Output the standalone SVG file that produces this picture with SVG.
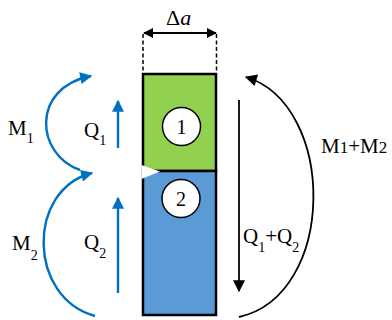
<svg xmlns="http://www.w3.org/2000/svg" width="392" height="320" viewBox="0 0 392 320">
<style>
text{font-family:'Liberation Serif','Times New Roman',serif;fill:#000}
.lbl{font-size:21px}
.sub{font-size:14px}
.num{font-size:20px}
.blk{fill:none;stroke:#000;stroke-width:1.8}
.blu{fill:none;stroke:#0070C0;stroke-width:2.4}
.dash{fill:none;stroke:#000;stroke-width:1.5;stroke-dasharray:4 2.5}
</style>
<defs>
<marker id="ab" viewBox="0 0 10 10" refX="9" refY="5" markerWidth="11" markerHeight="10" markerUnits="userSpaceOnUse" orient="auto-start-reverse"><path d="M0,0 L10,5 L0,10 Z" fill="#000"/></marker>
<marker id="au" viewBox="0 0 10 10" refX="9" refY="5" markerWidth="14" markerHeight="12" markerUnits="userSpaceOnUse" orient="auto"><path d="M0,0 L10,5 L0,10 Z" fill="#0070C0"/></marker>
<marker id="ak" viewBox="0 0 10 10" refX="9" refY="5" markerWidth="14" markerHeight="12" markerUnits="userSpaceOnUse" orient="auto"><path d="M0,0 L10,5 L0,10 Z" fill="#000"/></marker>
</defs>
<g id="block1">
<rect x="143" y="74" width="73" height="97" fill="#92D050" stroke="#000" stroke-width="2.5"/>
<circle cx="181.5" cy="126.5" r="19" fill="#fff" stroke="#000" stroke-width="1.5"/>
<text class="num" x="181.5" y="133.5" text-anchor="middle">1</text>
</g>
<g id="block2">
<rect x="143" y="171" width="73" height="144" fill="#5B9BD5" stroke="#000" stroke-width="2.5"/>
<circle cx="181" cy="198.5" r="19" fill="#fff" stroke="#000" stroke-width="1.5"/>
<text class="num" x="181" y="205.5" text-anchor="middle">2</text>
<path d="M141.5,165 L160,171.5 L141.5,179 Z" fill="#fff"/>
</g>
<g id="dimension">
<line class="dash" x1="143" y1="34" x2="143" y2="73"/>
<line class="dash" x1="216.5" y1="34" x2="216.5" y2="73"/>
<line x1="144" y1="33" x2="216" y2="33" stroke="#000" stroke-width="1.8" marker-start="url(#ab)" marker-end="url(#ab)"/>
<text x="166" y="25" style="font-size:22px">Δ<tspan font-style="italic">a</tspan></text>
</g>
<g id="connectors">
<path class="blu" d="M118,148 L118,101" marker-end="url(#au)"/>
<path class="blu" d="M118,293 L118,198" marker-end="url(#au)"/>
<path class="blu" d="M80,170 C36,155 30,88 91,76" marker-end="url(#au)"/>
<path class="blu" d="M95,316 C28,298 26,190 92,173" marker-end="url(#au)"/>
<path class="blk" d="M239,100 L239,291" marker-end="url(#ak)"/>
<path class="blk" d="M239,317 C337,295 337,105 246,77" marker-end="url(#ak)"/>
</g>
<g id="labels">
<text class="lbl" x="8" y="135">M<tspan class="sub" dy="8">1</tspan></text>
<text class="lbl" x="84" y="137">Q<tspan class="sub" dy="8">1</tspan></text>
<text class="lbl" x="12" y="250">M<tspan class="sub" dy="10">2</tspan></text>
<text class="lbl" x="84" y="249">Q<tspan class="sub" dy="9">2</tspan></text>
<text class="lbl" x="243" y="243">Q<tspan class="sub" dy="9">1</tspan><tspan dy="-9">+Q</tspan><tspan class="sub" dy="9">2</tspan></text>
<text class="lbl" x="321" y="153">M<tspan style="font-size:17px">1</tspan>+M<tspan style="font-size:17px">2</tspan></text>
</g>
</svg>
